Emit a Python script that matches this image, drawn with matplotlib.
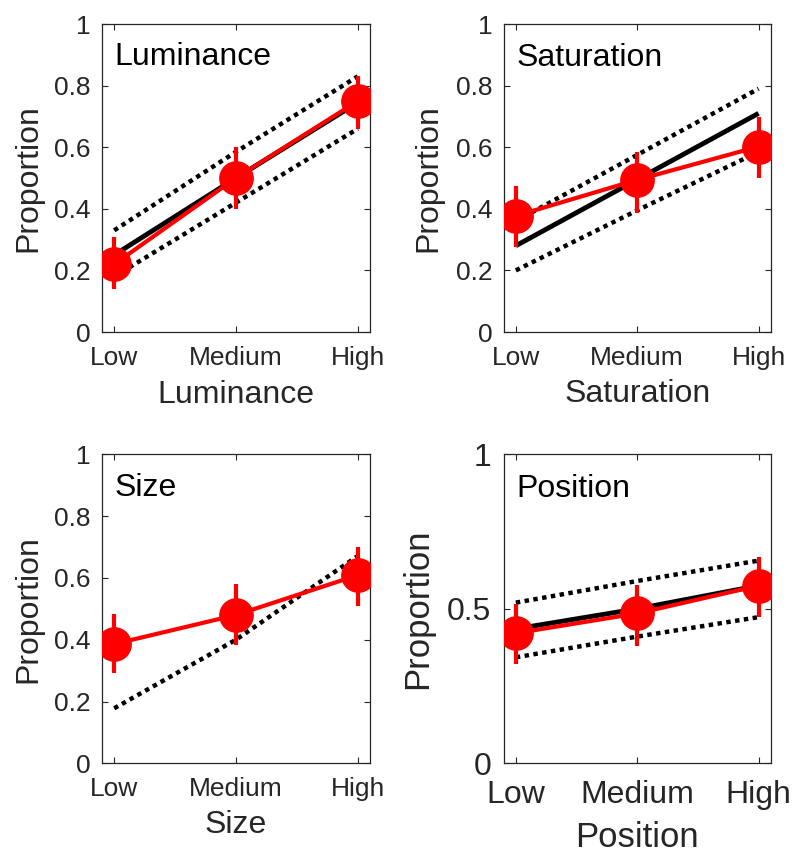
import matplotlib
matplotlib.use("Agg")
import matplotlib.pyplot as plt
import numpy as np

plt.rcParams['font.family'] = ['Liberation Sans', 'DejaVu Sans']

levels = ["Low", "Medium", "High"]
x = [1, 2, 3]

# Luminance
lum_mean = [0.22, 0.50, 0.75]
lum_lo = [0.14, 0.40, 0.66]
lum_hi = [0.31, 0.60, 0.83]
lum_pred = [0.25, 0.50, 0.745]
lum_band_hi = [0.33, 0.585, 0.83]
lum_band_lo = [0.18, 0.42, 0.66]

# Saturation
sat_mean = [0.377, 0.494, 0.602]
sat_lo = [0.277, 0.385, 0.501]
sat_hi = [0.474, 0.584, 0.697]
sat_pred = [0.28, 0.495, 0.71]
sat_band_hi = [0.36, 0.575, 0.79]
sat_band_lo = [0.20, 0.395, 0.585]

# Size
size_mean = [0.386, 0.48, 0.609]
size_lo = [0.291, 0.383, 0.51]
size_hi = [0.482, 0.58, 0.70]
size_band = [0.178, 0.40, 0.671]

# Position
pos_mean = [0.421, 0.485, 0.575]
pos_lo = [0.32, 0.38, 0.474]
pos_hi = [0.516, 0.577, 0.669]
pos_pred = [0.435, 0.50, 0.575]
pos_band_hi = [0.52, 0.59, 0.656]
pos_band_lo = [0.343, 0.41, 0.473]

W, H = 794, 852
fig = plt.figure(figsize=(W / 100, H / 100), dpi=100)

def px_axes(l, t, r, b):
    return fig.add_axes([l / W, (H - b) / H, (r - l) / W, (b - t) / H])

TXT = '#262626'

def draw(ax, title, mean, lo, hi, pred=None, bands=(), yticks=None, yticklabels=None,
         tickfs=19, labfs=23, titlefs=23, xpad=10, ypad=8,
         ylab_x=-0.276, xlab_y=-0.228, title_y=0.866):
    for b in bands:
        ax.plot(x, b, color='black', lw=3.2, linestyle=(0, (1.0, 1.0)), zorder=2)
    if pred is not None:
        ax.plot(x, pred, color='black', lw=3.5, zorder=3, solid_capstyle='butt')
    m = np.array(mean)
    yerr = [m - np.array(lo), np.array(hi) - m]
    ax.errorbar(x, mean, yerr=yerr, color='#ff0000', lw=3, elinewidth=3,
                capsize=0, marker='o', markersize=24, zorder=4)
    ax.set_xlim(0.9, 3.1)
    ax.set_ylim(0, 1)
    ax.set_xticks(x)
    ax.set_xticklabels(levels, fontsize=tickfs, color=TXT)
    ax.set_yticks(yticks)
    ax.set_yticklabels(yticklabels, fontsize=tickfs, color=TXT)
    ax.tick_params(direction='in', length=4, width=0.8, top=True, right=True,
                   color=TXT)
    ax.tick_params(axis='x', pad=xpad)
    ax.tick_params(axis='y', pad=ypad)
    for s in ax.spines.values():
        s.set_color(TXT)
        s.set_linewidth(0.9)
    ax.set_xlabel(title, fontsize=labfs, color=TXT)
    ax.xaxis.label.set_va('baseline')
    ax.xaxis.set_label_coords(0.5, xlab_y)
    ax.set_ylabel("Proportion", fontsize=labfs, color=TXT)
    ax.yaxis.label.set_va('center')
    ax.yaxis.set_label_coords(ylab_x, 0.5)
    ax.text(0.048, title_y, title, transform=ax.transAxes, fontsize=titlefs,
            ha='left', va='baseline', color='black')

yt = [0, 0.2, 0.4, 0.6, 0.8, 1]
ytl = ["0", "0.2", "0.4", "0.6", "0.8", "1"]

ax1 = px_axes(102, 24, 370, 332)
draw(ax1, "Luminance", lum_mean, lum_lo, lum_hi, lum_pred,
     (lum_band_hi, lum_band_lo), yt, ytl, xlab_y=-0.2295, title_y=0.867)

ax2 = px_axes(503.7, 24, 770.7, 332)
draw(ax2, "Saturation", sat_mean, sat_lo, sat_hi, sat_pred,
     (sat_band_hi, sat_band_lo), yt, ytl, ylab_x=-0.283, xlab_y=-0.226, title_y=0.865)

ax3 = px_axes(102, 454.3, 370, 763.3)
draw(ax3, "Size", size_mean, size_lo, size_hi, None, (size_band,), yt, ytl,
     xlab_y=-0.2265, title_y=0.865)

ax4 = px_axes(503.7, 454.3, 770.7, 763.3)
draw(ax4, "Position", pos_mean, pos_lo, pos_hi, pos_pred,
     (pos_band_hi, pos_band_lo), [0, 0.5, 1], ["0", "0.5", "1"],
     tickfs=23, labfs=25, titlefs=23, xpad=12, ypad=9,
     ylab_x=-0.321, xlab_y=-0.27, title_y=0.863)

fig.savefig("out.png", dpi=100)
